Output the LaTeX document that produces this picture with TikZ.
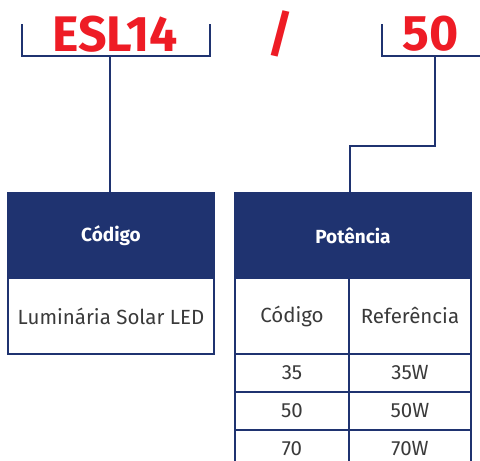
\documentclass[tikz,border=0pt]{standalone}
\usepackage{fontspec}
\setmainfont{Fira Sans}
\usepackage{tikz}
\usetikzlibrary{positioning,calc}
\definecolor{navy}{HTML}{1F3370}
\definecolor{codered}{HTML}{EE1C25}
\definecolor{bodytext}{HTML}{3A3A3A}

\begin{document}
\begin{tikzpicture}[
    x=1pt,y=-1pt,
    codetext/.style={
        font=\fontsize{50}{54}\selectfont\bfseries,
        text=codered,
        inner sep=0pt,
    },
    bracket/.style={
        draw=navy,
        line width=2.2pt,
    },
    link/.style={
        draw=navy,
        line width=2.2pt,
    },
    head/.style={
        draw=navy,
        fill=navy,
        line width=1.5pt,
        text=white,
        font=\fontsize{19}{22}\selectfont\bfseries,
        inner sep=0pt,
    },
    cell/.style={
        draw=navy,
        fill=white,
        line width=1.5pt,
        text=bodytext,
        font=\fontsize{20.5}{24}\selectfont,
        inner sep=0pt,
    },
]
\clip (0,0) rectangle (480,461);

% code parts
\node[codetext] (esl) at (115,34) {ESL14};
\node[codetext] (slash) at (280,34) {/};
\node[codetext] (watt) at (431,34) {50};

\draw[bracket] (22,24) -- (22,56) -- (210,56) -- (210,24);
\draw[bracket] (382,24) -- (382,56) -- (480,56);
\coordinate (lbrk) at (110,56);
\coordinate (rbrk) at (435,56);

% left table
\node[head,minimum width=206,minimum height=85] (codhead) at (111,235.5) {Código};
\node[cell,minimum width=206,minimum height=76] (codbody) at (111,316) {Luminária Solar LED};

% right table
\node[head,minimum width=236,minimum height=85] (pothead) at (353,235.5) {Potência};
\node[cell,minimum width=114,minimum height=76] (potcod) at (292,316) {Código};
\node[cell,minimum width=122,minimum height=76] (potref) at (410,316) {Referência};
\foreach \val [count=\i] in {35,50,70} {
    \node[cell,minimum width=114,minimum height=38] (cod\i) at (292,335+38*\i) {\val};
    \node[cell,minimum width=122,minimum height=38] (ref\i) at (410,335+38*\i) {\val W};
}

\draw[link] (lbrk) -- (lbrk |- codhead.north);
\draw[link] (rbrk) -- ++(0,90) -| (potcod.east |- pothead.north);
\end{tikzpicture}
\end{document}
